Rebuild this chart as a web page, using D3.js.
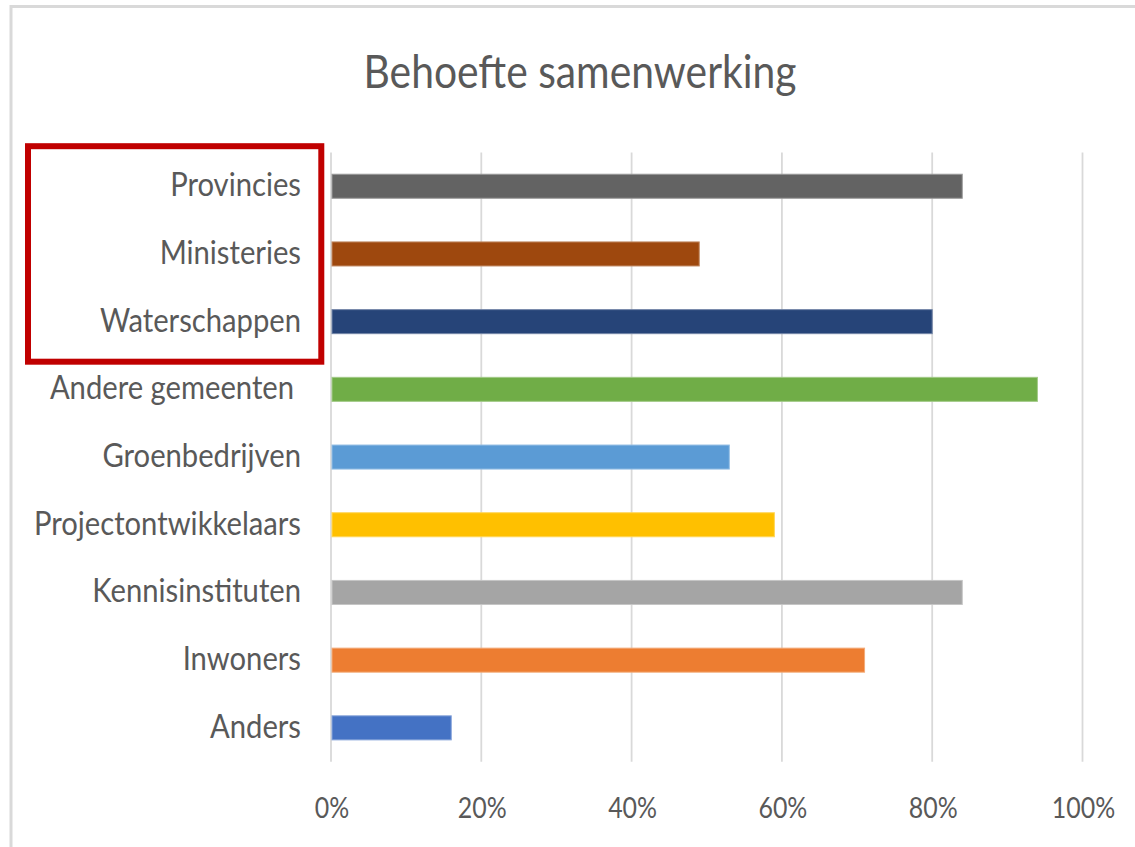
<!DOCTYPE html>
<html>
<head>
<meta charset="utf-8">
<script src="https://cdn.jsdelivr.net/npm/d3@7"></script>
<style>
  body { margin: 0; background: #fff; }
  text { font-family: Lato, "Open Sans", sans-serif; fill: #595959; }
</style>
</head>
<body>
<svg id="chart"></svg>
<script>
// DATA
const categories = ["Provincies", "Ministeries", "Waterschappen", "Andere gemeenten", "Groenbedrijven",
                    "Projectontwikkelaars", "Kennisinstituten", "Inwoners", "Anders"];
const values = [84, 49, 80, 94, 53, 59, 84, 71, 16];
const barColors = ["#636363", "#9E480E", "#264478", "#70AD47", "#5B9BD5", "#FFC000", "#A5A5A5", "#ED7D31", "#4472C4"];
const tickValues = [0, 20, 40, 60, 80, 100];

// SET VARIABLES
const _width = 1135, _height = 847;
const _plot = {left: 331, right: 1082.5, top: 152.4, bottom: 761.7};
// narrow letterforms like the original
const _squeeze = {label: 0.885, tick: 0.86, title: 0.887};

const svg = d3.select("#chart")
  .attr("width", _width)
  .attr("height", _height);

// outer frame (only left and top visible)
svg.append("rect")
  .attr("x", 11).attr("y", 6.5)
  .attr("width", 1200).attr("height", 900)
  .attr("fill", "none")
  .attr("stroke", "#d9d9d9")
  .attr("stroke-width", 3);

const x = d3.scaleLinear().domain([0, 100]).range([_plot.left, _plot.right]);
const y = d3.scaleBand()
  .domain(categories)
  .range([_plot.top, _plot.bottom])
  .paddingInner(0.645)
  .paddingOuter(0.3225);

// gridlines
svg.append("g")
  .selectAll("line")
  .data(tickValues)
  .enter()
  .append("line")
    .attr("x1", d => x(d)).attr("x2", d => x(d))
    .attr("y1", _plot.top).attr("y2", _plot.bottom)
    .attr("stroke", "#d9d9d9")
    .attr("stroke-width", 1.8);

// bars
svg.append("g")
  .selectAll("rect")
  .data(categories)
  .enter()
  .append("rect")
    .attr("x", x(0) + 1)
    .attr("y", d => y(d))
    .attr("width", (d, i) => x(values[i]) - x(0) - 1)
    .attr("height", y.bandwidth())
    .attr("fill", (d, i) => barColors[i])
    .attr("stroke", (d, i) => d3.interpolateRgb(barColors[i], "#fff")(0.35))
    .attr("stroke-width", 1);

// category labels
svg.append("g")
  .selectAll("text")
  .data(categories)
  .enter()
  .append("text")
    .attr("transform", d => `translate(${_plot.left - 30 - (d === "Andere gemeenten" ? 7 : 0)}, ${y(d) + y.bandwidth() / 2 + 10}) scale(${_squeeze.label}, 1)`)
    .attr("text-anchor", "end")
    .style("font-size", "33px")
    .text(d => d);

// x tick labels
svg.append("g")
  .selectAll("text")
  .data(tickValues)
  .enter()
  .append("text")
    .attr("transform", d => `translate(${x(d) + 1}, 818) scale(${_squeeze.tick}, 1)`)
    .attr("text-anchor", "middle")
    .style("font-size", "29px")
    .text(d => `${d}%`);

// title
svg.append("text")
  .attr("transform", `translate(580, 88) scale(${_squeeze.title}, 1)`)
  .attr("text-anchor", "middle")
  .style("font-size", "46px")
  .text("Behoefte samenwerking");

// highlight box
svg.append("rect")
  .attr("x", 28).attr("y", 146.2)
  .attr("width", 293.3).attr("height", 215.5)
  .attr("fill", "none")
  .attr("stroke", "#C00000")
  .attr("stroke-width", 6);
</script>
</body>
</html>
